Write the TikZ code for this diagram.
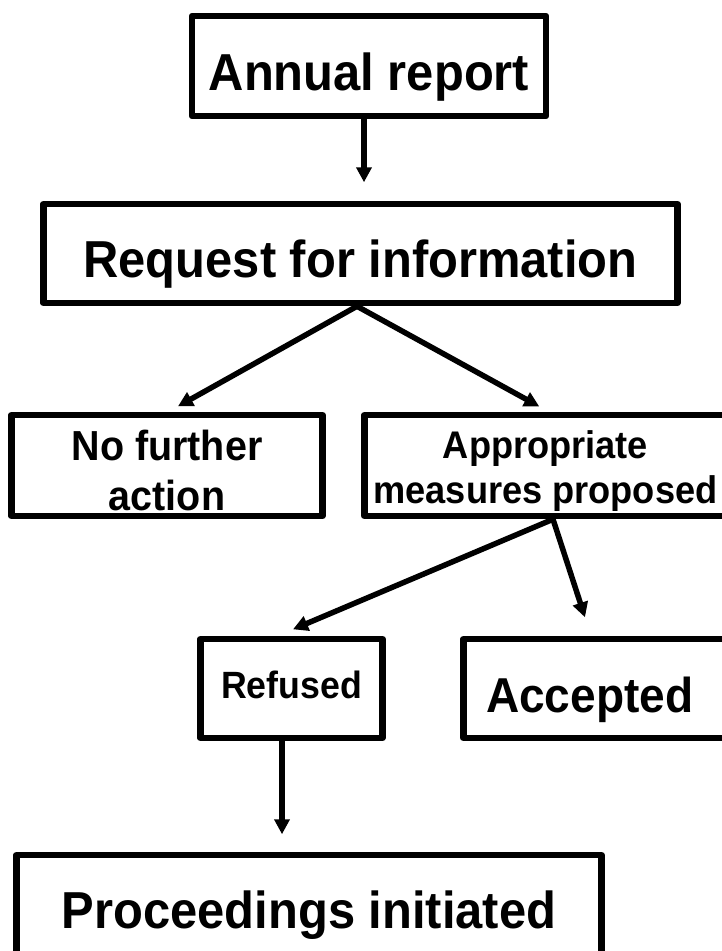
\documentclass[tikz,border=0pt]{standalone}
\usepackage{fontspec}
\setmainfont[FakeStretch=0.94]{Liberation Sans}
\usetikzlibrary{arrows.meta}

\begin{document}
\begin{tikzpicture}[x=1pt,y=-1pt,
    box/.style={draw, line width=6.5pt, line join=round, inner sep=0pt},
    arr/.style={line width=5.5pt, -{Triangle[length=15pt,width=15pt]}}]
        \useasboundingbox (0,0) rectangle (722,951);
        \clip (0,0) rectangle (722,951);
        % boxes
        \node[box, minimum width=354pt, minimum height=100pt, text height=58pt, text depth=10pt,
            font=\fontsize{52}{55}\selectfont\bfseries] (annual) at (369,66) {Annual report};
        \node[box, minimum width=634pt, minimum height=99pt, text height=57pt, text depth=10pt,
            font=\fontsize{52}{55}\selectfont\bfseries] (request) at (360.5,253.5) {Request for information};
        \node[box, minimum width=311pt, minimum height=101pt, align=center, text height=89pt, text depth=0pt,
            font=\fontsize{42}{50}\selectfont\bfseries] (nofurther) at (167,465.5) {No further\\action};
        \node[box, minimum width=362pt, minimum height=101pt, align=center, text height=82pt, text depth=7pt,
            font=\fontsize{38.5}{45}\selectfont\bfseries] (appr) at (545.5,465.5) {Appropriate\\measures proposed};
        \node[box, minimum width=182pt, minimum height=99pt, text height=26pt, text depth=7pt,
            font=\fontsize{38}{40}\selectfont\bfseries] (refused) at (291.5,688.5) {Refused};
        \node[box, minimum width=266.5pt, minimum height=99pt, text height=55pt, text depth=8pt,
            font=\fontsize{49}{52}\selectfont\bfseries] (accepted) at (596.75,688.5) {\hspace*{-14pt}Accepted};
        \node[box, minimum width=585pt, minimum height=100pt, text height=56pt, text depth=10pt,
            font=\fontsize{52}{55}\selectfont\bfseries] (proc) at (309,905) {Proceedings initiated};
        % arrows
        \draw[arr, shorten >=18.5pt] ([xshift=-5pt]annual.south) -- ([xshift=3.5pt]request.north);
        \draw[arr, shorten >=11pt] ([xshift=-3.5pt]request.south) -- ([xshift=1.3pt]nofurther.north);
        \draw[arr, shorten >=11pt] ([xshift=-3.5pt]request.south) -- ([xshift=3.4pt]appr.north);
        \draw[arr, shorten >=16.5pt] ([xshift=7.5pt]appr.south) -- ([xshift=-13.7pt]refused.north);
        \draw[arr, shorten >=19.4pt] ([xshift=7.5pt]appr.south) -- ([xshift=-5.75pt]accepted.north);
        \draw[arr, shorten >=17.5pt] ([xshift=-9.5pt]refused.south) -- ([xshift=-27pt]proc.north);
    \end{tikzpicture}
\end{document}
